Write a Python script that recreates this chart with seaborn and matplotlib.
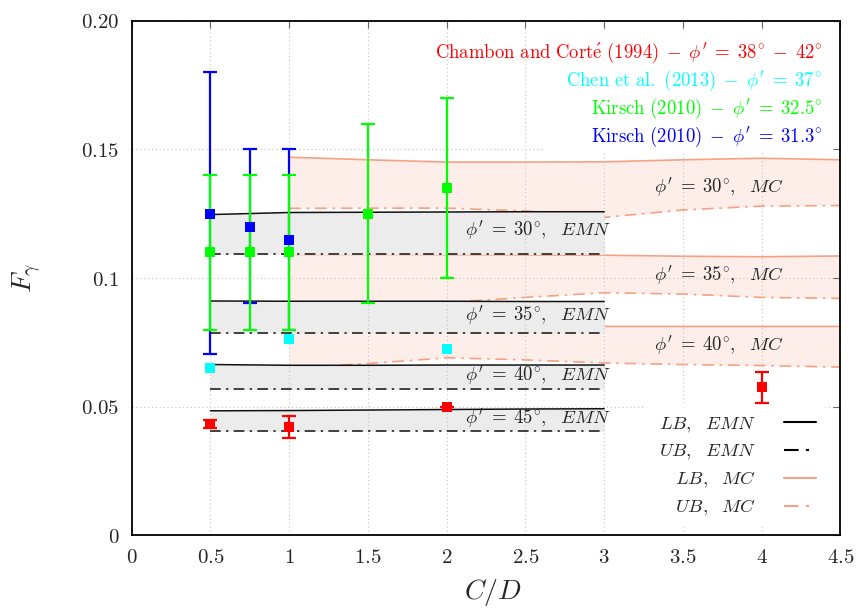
import matplotlib
matplotlib.use("Agg")
import matplotlib.pyplot as plt
from matplotlib.lines import Line2D
from matplotlib.patches import Rectangle
import seaborn as sns
import numpy as np
import pandas as pd

sns.set_style("white")
plt.rcParams["mathtext.fontset"] = "cm"
plt.rcParams["font.family"] = ["DejaVu Serif"]

# ---------------- data ----------------
# experimental data (C/D, F_gamma, lower, upper)
red_x = [0.5, 1.0, 2.0, 4.0]
red_y = [0.0432, 0.0420, 0.0500, 0.0575]
red_lo = [0.0417, 0.0378, 0.0500, 0.0514]
red_hi = [0.0448, 0.0463, 0.0500, 0.0634]

cyan_x = [0.5, 1.0, 2.0]
cyan_y = [0.0652, 0.0762, 0.0724]

green_x = [0.5, 0.75, 1.0, 1.5, 2.0]
green_y = [0.110, 0.110, 0.110, 0.125, 0.135]
green_lo = [0.080, 0.080, 0.080, 0.0905, 0.100]
green_hi = [0.140, 0.140, 0.140, 0.160, 0.170]

blue_x = [0.5, 0.75, 1.0]
blue_y = [0.125, 0.120, 0.115]
blue_lo = [0.0705, 0.0905, 0.080]
blue_hi = [0.180, 0.150, 0.150]

# EMN bounds
emn_x = [0.5, 1.0, 1.5, 2.0, 2.5, 3.0]
emn_lb30 = [0.1247, 0.1255, 0.1256, 0.1257, 0.1258, 0.1258]
emn_ub30 = [0.1092, 0.1092, 0.1092, 0.1092, 0.1092, 0.1092]
emn_lb35 = [0.0911, 0.0910, 0.0910, 0.0910, 0.0909, 0.0909]
emn_ub35 = [0.0787, 0.0787, 0.0787, 0.0787, 0.0787, 0.0787]
emn_lb40 = [0.0664, 0.0661, 0.0661, 0.0662, 0.0662, 0.0662]
emn_ub40 = [0.0567, 0.0567, 0.0567, 0.0567, 0.0567, 0.0567]
emn_lb45 = [0.0484, 0.0485, 0.0487, 0.0489, 0.0491, 0.0492]
emn_ub45 = [0.0405, 0.0405, 0.0405, 0.0405, 0.0405, 0.0405]

# MC bounds
mc_x = [1.0, 1.5, 2.0, 2.5, 3.0, 3.5, 4.0, 4.5]
mc_lb30 = [0.1470, 0.1460, 0.1451, 0.1451, 0.1452, 0.1460, 0.1466, 0.1460]
mc_ub30 = [0.1271, 0.1272, 0.1272, 0.1261, 0.1236, 0.1265, 0.1280, 0.1282]
mc_lb35 = [0.1092, 0.1092, 0.1091, 0.1090, 0.1089, 0.1085, 0.1083, 0.1086]
mc_ub35 = [0.0890, 0.0898, 0.0905, 0.0925, 0.0943, 0.0938, 0.0925, 0.0921]
mc_lb40 = [0.0814, 0.0813, 0.0813, 0.0812, 0.0812, 0.0812, 0.0812, 0.0812]
mc_ub40 = [0.0650, 0.0668, 0.0690, 0.0682, 0.0670, 0.0664, 0.0660, 0.0654]

x_ticks = [0, 0.5, 1, 1.5, 2, 2.5, 3, 3.5, 4, 4.5]
x_labels = ["0", "0.5", "1", "1.5", "2", "2.5", "3", "3.5", "4", "4.5"]
y_ticks = [0, 0.05, 0.1, 0.15, 0.2]
y_labels = ["0", "0.05", "0.1", "0.15", "0.20"]

# ---------------- styling ----------------
RED, CYAN, GREEN, BLUE = "#ff0000", "#00ffff", "#00ff00", "#0000ff"
SALMON = "#f8a083"
MC_FILL = "#fdeee9"
EMN_FILL = "#ececec"
DASHDOT = (0, (7, 3.5, 1.5, 3.5))

fig = plt.figure(figsize=(8.64, 6.11), dpi=100)
ax = fig.add_axes([0.1524, 0.1239, 0.8204, 0.8419])

# MC bands
for lb, ub in [(mc_lb30, mc_ub30), (mc_lb35, mc_ub35), (mc_lb40, mc_ub40)]:
    ax.fill_between(mc_x, ub, lb, color=MC_FILL, lw=0, zorder=0.8)
    sns.lineplot(x=mc_x, y=lb, color=SALMON, lw=1.2, ax=ax, zorder=1.0)
    sns.lineplot(x=mc_x, y=ub, color=SALMON, lw=1.2, linestyle=DASHDOT, ax=ax, zorder=1.0)

# EMN bands
for lb, ub in [(emn_lb30, emn_ub30), (emn_lb35, emn_ub35),
               (emn_lb40, emn_ub40), (emn_lb45, emn_ub45)]:
    ax.fill_between(emn_x, ub, lb, color=EMN_FILL, lw=0, zorder=1.5)
    sns.lineplot(x=emn_x, y=lb, color="#111111", lw=1.1, ax=ax, zorder=3)
    sns.lineplot(x=emn_x, y=ub, color="#111111", lw=1.1, linestyle=DASHDOT, ax=ax, zorder=3)

# error bars
def ebar(x, y, lo, hi, c, z):
    y = np.asarray(y); lo = np.asarray(lo); hi = np.asarray(hi)
    ax.errorbar(x, y, yerr=[y - lo, hi - y], fmt="none", ecolor=c,
                elinewidth=1.6, capsize=5, capthick=1.6, zorder=z)

ebar(blue_x, blue_y, blue_lo, blue_hi, BLUE, 4.0)
ebar(green_x, green_y, green_lo, green_hi, GREEN, 4.1)
ebar(red_x, red_y, red_lo, red_hi, RED, 4.2)

for xs, ys, c in [(blue_x, blue_y, BLUE), (green_x, green_y, GREEN),
                  (red_x, red_y, RED), (cyan_x, cyan_y, CYAN)]:
    sns.scatterplot(x=xs, y=ys, color=c, marker="s", s=44, linewidth=0,
                    ax=ax, zorder=5, legend=False)

# band labels
fs_band = 13.5
for yv, t in [(0.1187, r"$\phi'\;=\;30^{\circ},\ \ EMN$"),
              (0.0857, r"$\phi'\;=\;35^{\circ},\ \ EMN$"),
              (0.0621, r"$\phi'\;=\;40^{\circ},\ \ EMN$"),
              (0.0455, r"$\phi'\;=\;45^{\circ},\ \ EMN$")]:
    ax.text(3.04, yv, t, ha="right", va="center", fontsize=fs_band, zorder=6)
for yv, t in [(0.1352, r"$\phi'\;=\;30^{\circ},\ \ MC$"),
              (0.1012, r"$\phi'\;=\;35^{\circ},\ \ MC$"),
              (0.0737, r"$\phi'\;=\;40^{\circ},\ \ MC$")]:
    ax.text(4.14, yv, t, ha="right", va="center", fontsize=fs_band, zorder=6)

# source labels on a white box
ax.add_patch(Rectangle((2.62, 0.1488), 1.835, 0.0465, facecolor="white",
                       edgecolor="none", zorder=5.5))
fs_src = 13.5
for yv, t, c in [(0.1874, r"$\mathrm{Chambon\ and\ Cort\acute{e}\ (1994)}\;-\;\phi'\;=\;38^{\circ}\;-\;42^{\circ}$", RED),
                 (0.1767, r"$\mathrm{Chen\ et\ al.\ (2013)}\;-\;\phi'\;=\;37^{\circ}$", CYAN),
                 (0.1657, r"$\mathrm{Kirsch\ (2010)}\;-\;\phi'\;=\;32.5^{\circ}$", GREEN),
                 (0.1550, r"$\mathrm{Kirsch\ (2010)}\;-\;\phi'\;=\;31.3^{\circ}$", BLUE)]:
    ax.text(4.383, yv, t, ha="right", va="center", fontsize=fs_src, color=c, zorder=6)

# legend
handles = [Line2D([], [], color="black", lw=1.5),
           Line2D([], [], color="black", lw=1.5, linestyle=DASHDOT),
           Line2D([], [], color=SALMON, lw=1.5),
           Line2D([], [], color=SALMON, lw=1.5, linestyle=DASHDOT)]
labels = [r"$LB,\ \ EMN$", r"$UB,\ \ EMN$",
          r"$\quad\,LB,\ \ MC$", r"$\quad\,UB,\ \ MC$"]
leg = ax.legend(handles, labels, loc="center", bbox_to_anchor=(0.852, 0.134),
                markerfirst=False, frameon=True, facecolor="white",
                edgecolor="none", framealpha=1, fontsize=13.5,
                handlelength=1.7, handletextpad=1.5, labelspacing=0.42,
                borderpad=0.5, fancybox=False)
leg.set_zorder(7)

# axes
ax.set_xlim(0, 4.5)
ax.set_ylim(0, 0.2)
ax.set_xticks(x_ticks)
ax.set_xticklabels([f"${s}$" for s in x_labels])
ax.set_yticks(y_ticks)
ax.set_yticklabels([f"${s}$" for s in y_labels])
ax.tick_params(direction="in", length=5, width=0.8, color="#666666",
               top=True, right=True, labelsize=15, pad=9)
ax.grid(True, linestyle=(0, (1, 2.5)), color="#c4c4c4", lw=0.8)
ax.set_axisbelow(False)
for s in ax.spines.values():
    s.set_linewidth(1.3)
    s.set_color("black")
    s.set_zorder(8)

ax.set_xlabel(r"$C/D$", fontsize=20)
ax.set_ylabel(r"$F_{\gamma}$", fontsize=20)
ax.xaxis.label.set_va("center")
ax.yaxis.label.set_va("center")
ax.xaxis.set_label_coords(0.51, -0.112)
ax.yaxis.set_label_coords(-0.148, 0.5)

fig.savefig("out.png", dpi=100)
